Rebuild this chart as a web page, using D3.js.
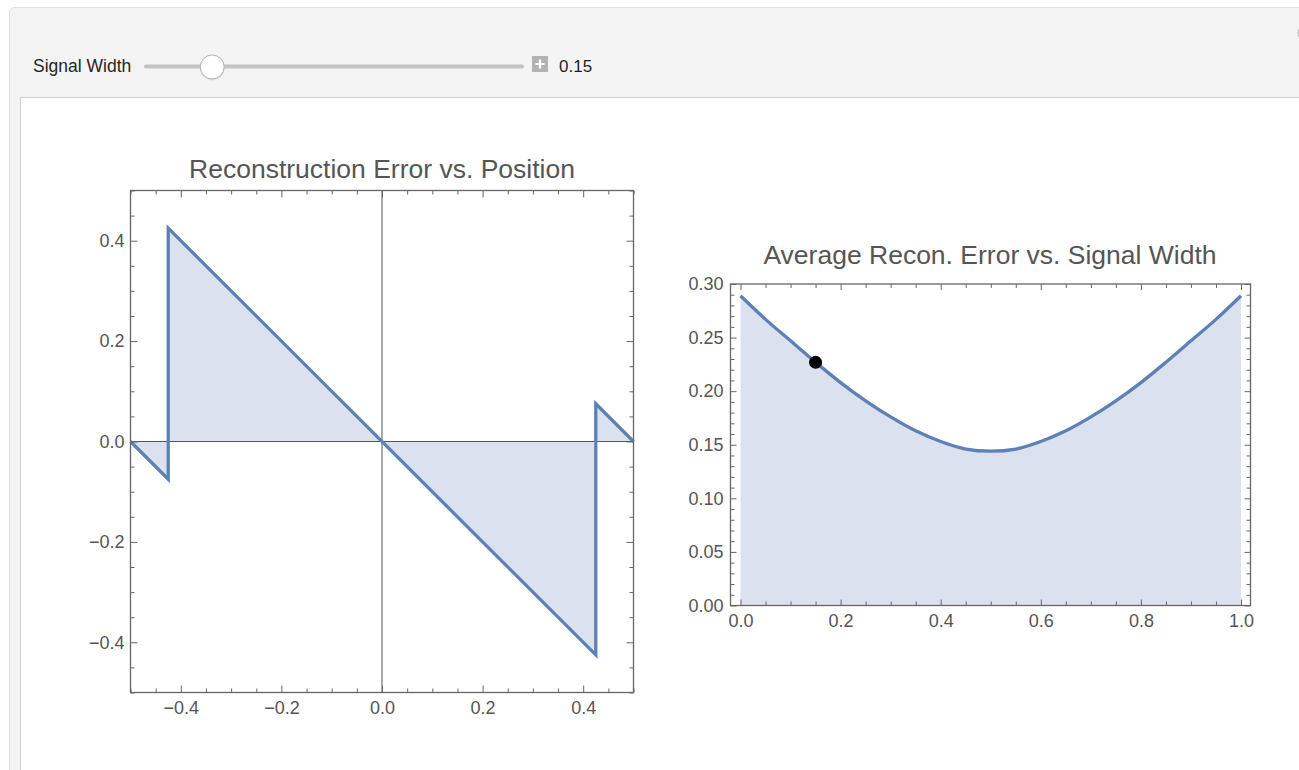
<!DOCTYPE html>
<html>
<head>
<meta charset="utf-8">
<script src="https://cdn.jsdelivr.net/npm/d3@7"></script>
<style>
  html, body { margin: 0; padding: 0; background: #fff; }
  svg { display: block; font-family: "Liberation Sans", Arial, Helvetica, sans-serif; }
</style>
</head>
<body>
<svg id="chart" width="1299" height="770"></svg>
<script>
// ---- data ----
// Reconstruction error as a function of position (signal width 0.15)
const positions = [-0.5, -0.425, -0.425, 0.425, 0.425, 0.5];
const errors    = [0, -0.075, 0.425, -0.425, 0.075, 0];

// Average reconstruction error as a function of signal width
const widths = [0, 0.05, 0.10, 0.15, 0.20, 0.25, 0.30, 0.35, 0.40, 0.45, 0.50,
                0.55, 0.60, 0.65, 0.70, 0.75, 0.80, 0.85, 0.90, 0.95, 1.0];
const avgErrors = [0.289, 0.267, 0.247, 0.227, 0.208, 0.191, 0.176, 0.163, 0.153, 0.146, 0.144,
                   0.146, 0.153, 0.163, 0.176, 0.191, 0.208, 0.227, 0.247, 0.267, 0.289];

// Current control setting and the error at that width
const sliderLabel = "Signal Width";
const sliderValue = 0.15;
const sliderDomain = [0, 1];
const currentAvgError = 0.227;

// Tick labels
const posTicks = [-0.4, -0.2, 0.0, 0.2, 0.4];
const widthTicks = [0.0, 0.2, 0.4, 0.6, 0.8, 1.0];
const avgTicks = [0.00, 0.05, 0.10, 0.15, 0.20, 0.25, 0.30];

const titleLeft = "Reconstruction Error vs. Position";
const titleRight = "Average Recon. Error vs. Signal Width";

// ---- styles ----
const lineColor = "#5e81b5";
const fillColor = "#dbe1ef";
const frameColor = "#666666";
const textColor = "#555555";

const svg = d3.select("#chart");

// ---- control panel background ----
svg.append("rect").attr("x", 9.5).attr("y", 7.5).attr("width", 1320).attr("height", 800)
  .attr("rx", 5).attr("fill", "#f4f4f4").attr("stroke", "#e0e0e0");
svg.append("rect").attr("x", 20.5).attr("y", 97.5).attr("width", 1300).attr("height", 700)
  .attr("fill", "#ffffff").attr("stroke", "#cfcfcf");
// partly hidden options button at the top right
svg.append("circle").attr("cx", 1306).attr("cy", 33).attr("r", 8)
  .attr("fill", "#f4f4f4").attr("stroke", "#b5b5b5");

// ---- slider ----
svg.append("text").attr("x", 33).attr("y", 72).attr("font-size", 17.5).attr("fill", "#262626")
  .text(sliderLabel);
const trackX0 = 146, trackX1 = 522, trackY = 66.5, knobR = 12;
svg.append("line").attr("x1", trackX0).attr("x2", trackX1).attr("y1", trackY).attr("y2", trackY)
  .attr("stroke", "#c3c3c3").attr("stroke-width", 4).attr("stroke-linecap", "round");
const sliderScale = d3.scaleLinear().domain(sliderDomain).range([trackX0 + 14, trackX1 - 14]);
svg.append("circle").attr("cx", sliderScale(sliderValue)).attr("cy", trackY + 1.5).attr("r", knobR + 0.5)
  .attr("fill", "#d8d8d8").attr("opacity", 0.6);
svg.append("circle").attr("cx", sliderScale(sliderValue)).attr("cy", trackY + 0.5).attr("r", knobR)
  .attr("fill", "#ffffff").attr("stroke", "#b0b0b0").attr("stroke-width", 1);
// increment box
svg.append("rect").attr("x", 532).attr("y", 56).attr("width", 16).attr("height", 16)
  .attr("fill", "#b3b3b3");
svg.append("path").attr("d", "M540,59.5V68.5M535.5,64H544.5")
  .attr("stroke", "#ffffff").attr("stroke-width", 2.2);
svg.append("text").attr("x", 559).attr("y", 72).attr("font-size", 17).attr("fill", "#1e1e1e")
  .text(d3.format(".2f")(sliderValue));

// ---- helper: framed plot with inward ticks ----
function framedAxes(g, x, y, frame, opts) {
  g.append("rect").attr("x", frame.x0).attr("y", frame.y0)
    .attr("width", frame.x1 - frame.x0).attr("height", frame.y1 - frame.y0)
    .attr("fill", "none").attr("stroke", frameColor).attr("stroke-width", 1.3);

  const styleAxis = (sel) => {
    sel.select(".domain").remove();
    sel.selectAll(".tick line").attr("stroke", frameColor).attr("stroke-width", 1);
    sel.selectAll(".tick text").attr("fill", textColor).attr("font-size", 18)
      .attr("font-family", "Liberation Sans, Arial, Helvetica, sans-serif");
  };

  // bottom and top
  g.append("g").attr("transform", `translate(0,${frame.y1})`)
    .call(d3.axisBottom(x).tickValues(opts.xMinor).tickSize(-opts.minorLen).tickFormat(""))
    .call(styleAxis);
  g.append("g").attr("transform", `translate(0,${frame.y1})`)
    .call(d3.axisBottom(x).tickValues(opts.xMajor).tickSize(-opts.majorLen).tickPadding(9)
      .tickFormat(opts.xFormat))
    .call(styleAxis);
  g.append("g").attr("transform", `translate(0,${frame.y0})`)
    .call(d3.axisTop(x).tickValues(opts.xMinor).tickSize(-opts.minorLen).tickFormat(""))
    .call(styleAxis);
  g.append("g").attr("transform", `translate(0,${frame.y0})`)
    .call(d3.axisTop(x).tickValues(opts.xMajor).tickSize(-opts.majorLen).tickFormat(""))
    .call(styleAxis);

  // left and right
  g.append("g").attr("transform", `translate(${frame.x0},0)`)
    .call(d3.axisLeft(y).tickValues(opts.yMinor).tickSize(-opts.minorLen).tickFormat(""))
    .call(styleAxis);
  g.append("g").attr("transform", `translate(${frame.x0},0)`)
    .call(d3.axisLeft(y).tickValues(opts.yMajor).tickSize(-opts.majorLen).tickPadding(opts.yPad)
      .tickFormat(opts.yFormat))
    .call(styleAxis);
  g.append("g").attr("transform", `translate(${frame.x1},0)`)
    .call(d3.axisRight(y).tickValues(opts.yMinor).tickSize(-opts.minorLen).tickFormat(""))
    .call(styleAxis);
  g.append("g").attr("transform", `translate(${frame.x1},0)`)
    .call(d3.axisRight(y).tickValues(opts.yMajor).tickSize(-opts.majorLen).tickFormat(""))
    .call(styleAxis);
}

const near = (arr, v) => arr.some(a => Math.abs(a - v) < 1e-9);

// ---- left plot: error vs position ----
{
  const frame = { x0: 130.5, x1: 633.5, y0: 190.5, y1: 692.5 };
  const x = d3.scaleLinear().domain([-0.5, 0.5]).range([frame.x0, frame.x1]);
  const y = d3.scaleLinear().domain([-0.5, 0.5]).range([frame.y1, frame.y0]);
  const g = svg.append("g");
  const pts = positions.map((p, i) => [p, errors[i]]);

  g.append("path").datum(pts)
    .attr("d", d3.area().x(d => x(d[0])).y0(y(0)).y1(d => y(d[1])))
    .attr("fill", fillColor);

  // coordinate axes through the origin
  g.append("line").attr("x1", frame.x0).attr("x2", frame.x1).attr("y1", y(0)).attr("y2", y(0))
    .attr("stroke", "#555").attr("stroke-width", 1);
  g.append("line").attr("x1", x(0)).attr("x2", x(0)).attr("y1", frame.y0).attr("y2", frame.y1)
    .attr("stroke", "#555").attr("stroke-width", 1);

  g.append("path").datum(pts)
    .attr("d", d3.line().x(d => x(d[0])).y(d => y(d[1])))
    .attr("fill", "none").attr("stroke", lineColor).attr("stroke-width", 3.3)
    .attr("stroke-linejoin", "miter");

  const minor = d3.range(-10, 11).map(i => i * 0.05).filter(v => !near(posTicks, v));
  framedAxes(g, x, y, frame, {
    xMajor: posTicks, xMinor: minor, yMajor: posTicks, yMinor: minor,
    majorLen: 7, minorLen: 4, yPad: 6,
    xFormat: d3.format(".1f"), yFormat: d3.format(".1f")
  });

  g.append("text").attr("x", (frame.x0 + frame.x1) / 2).attr("y", 178)
    .attr("text-anchor", "middle").attr("font-size", 26.5).attr("fill", textColor)
    .text(titleLeft);
}

// ---- right plot: average error vs signal width ----
{
  const frame = { x0: 730.5, x1: 1250.5, y0: 284, y1: 605.5 };
  const x = d3.scaleLinear().domain([0, 1]).range([740.5, 1241]);
  const y = d3.scaleLinear().domain([0, 0.3]).range([frame.y1, frame.y0]);
  const g = svg.append("g");
  const pts = widths.map((w, i) => [w, avgErrors[i]]);

  g.append("path").datum(pts)
    .attr("d", d3.area().x(d => x(d[0])).y0(y(0)).y1(d => y(d[1])).curve(d3.curveCatmullRom))
    .attr("fill", fillColor);
  g.append("path").datum(pts)
    .attr("d", d3.line().x(d => x(d[0])).y(d => y(d[1])).curve(d3.curveCatmullRom))
    .attr("fill", "none").attr("stroke", lineColor).attr("stroke-width", 3.3);

  g.append("circle").attr("cx", x(sliderValue)).attr("cy", y(currentAvgError)).attr("r", 6.5)
    .attr("fill", "#000");

  const xMinor = d3.range(0, 21).map(i => i * 0.05).filter(v => !near(widthTicks, v));
  const yMinor = d3.range(0, 31).map(i => i * 0.01).filter(v => !near(avgTicks, v));
  framedAxes(g, x, y, frame, {
    xMajor: widthTicks, xMinor: xMinor, yMajor: avgTicks, yMinor: yMinor,
    majorLen: 6, minorLen: 4, yPad: 7,
    xFormat: d3.format(".1f"), yFormat: d3.format(".2f")
  });

  g.append("text").attr("x", 990).attr("y", 264)
    .attr("text-anchor", "middle").attr("font-size", 26.5).attr("fill", textColor)
    .text(titleRight);
}
</script>
</body>
</html>
